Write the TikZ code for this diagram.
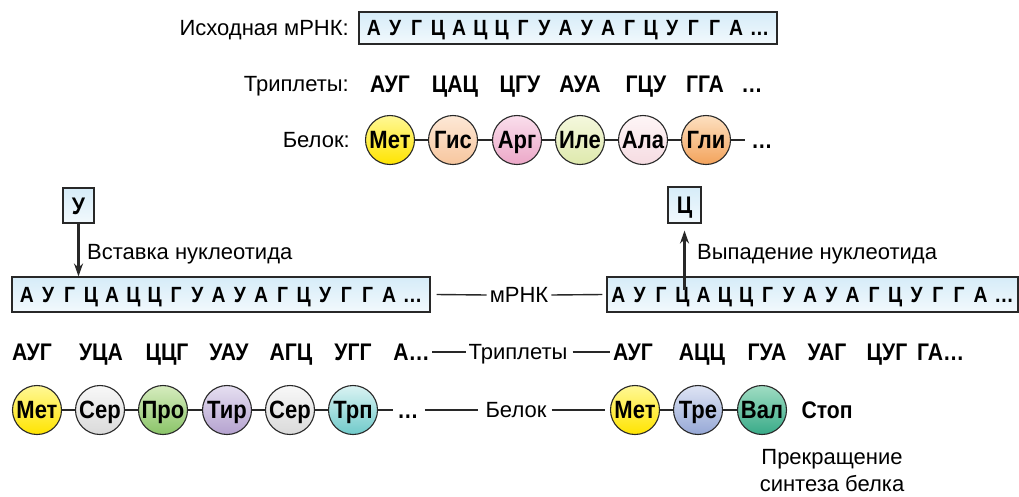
\documentclass[tikz,border=0pt]{standalone}
\usepackage{fontspec}
\setmainfont{Liberation Sans}
\newfontfamily\cb[FakeStretch=0.88]{Liberation Sans}
\usetikzlibrary{arrows.meta,calc}
\newcommand\nt[1]{\makebox[21.3pt]{#1}}
\newcommand\seqtext{\nt{А}\nt{У}\nt{Г}\nt{Ц}\nt{А}\nt{Ц}\nt{Ц}\nt{Г}\nt{У}\nt{А}\nt{У}\nt{А}\nt{Г}\nt{Ц}\nt{У}\nt{Г}\nt{Г}\nt{А}\makebox[26pt]{…}}
\definecolor{boxA}{RGB}{214,236,248}
\definecolor{boxB}{RGB}{242,249,253}
\definecolor{edge}{RGB}{40,40,40}
\definecolor{metA}{RGB}{255,248,150}\definecolor{metB}{RGB}{255,228,0}
\definecolor{gisA}{RGB}{253,232,214}\definecolor{gisB}{RGB}{247,198,158}
\definecolor{argA}{RGB}{250,222,236}\definecolor{argB}{RGB}{236,168,200}
\definecolor{ileA}{RGB}{245,248,222}\definecolor{ileB}{RGB}{222,233,172}
\definecolor{alaA}{RGB}{254,245,246}\definecolor{alaB}{RGB}{246,220,226}
\definecolor{gliA}{RGB}{253,224,192}\definecolor{gliB}{RGB}{243,163,92}
\definecolor{serA}{RGB}{248,248,248}\definecolor{serB}{RGB}{218,218,218}
\definecolor{proA}{RGB}{214,236,190}\definecolor{proB}{RGB}{138,196,104}
\definecolor{tirA}{RGB}{230,223,241}\definecolor{tirB}{RGB}{180,162,207}
\definecolor{trpA}{RGB}{218,243,243}\definecolor{trpB}{RGB}{112,202,202}
\definecolor{treA}{RGB}{222,228,244}\definecolor{treB}{RGB}{150,168,214}
\definecolor{valA}{RGB}{160,221,195}\definecolor{valB}{RGB}{56,170,136}
\begin{document}
\begin{tikzpicture}[x=1pt,y=-1pt,
  lbl/.style={font=\fontsize{22}{26}\selectfont, inner sep=0pt, text height=15.7pt, text depth=0pt},
  trip/.style={font=\cb\bfseries\fontsize{24}{28}\selectfont, inner sep=0pt, text height=17.2pt, text depth=0pt},
  seqbox/.style={draw=edge, line width=1.1pt, top color=boxA, bottom color=boxB, inner sep=0pt,
    font=\cb\bfseries\fontsize{22}{26}\selectfont, text height=15.7pt, text depth=0pt},
  aa/.style={circle, draw=edge, line width=1.1pt, minimum size=49pt, inner sep=0pt,
    font=\cb\bfseries\fontsize{25}{29}\selectfont, text height=17.9pt, text depth=0pt},
  link/.style={draw=edge, line width=1.4pt},
  arr/.style={draw=edge, line width=2.2pt, -{Stealth[length=13pt,width=9pt]}}
]
\useasboundingbox (0,0) rectangle (1019,496);

% ---------- original ----------
\node[lbl, anchor=east] (lm) at (349,28) {Исходная мРНК:};
\node[seqbox, minimum width=418pt, minimum height=32pt] (s0) at (568,28) {\seqtext};
\node[lbl, anchor=east] (lt) at (349,84) {Триплеты:};
\node[trip] (t1) at (390,84) {АУГ};
\node[trip] (t2) at (455,84) {ЦАЦ};
\node[trip] (t3) at (520,84) {ЦГУ};
\node[trip] (t4) at (580,84) {АУА};
\node[trip] (t5) at (646,84) {ГЦУ};
\node[trip] (t6) at (705,84) {ГГА};
\node[trip] (t7) at (752,84) {…};
\node[lbl, anchor=east] (lb) at (350,140) {Белок:};
\node[aa, top color=metA, bottom color=metB] (p1) at (390,140) {Мет};
\node[aa, top color=gisA, bottom color=gisB] (p2) at (453,140) {Гис};
\node[aa, top color=argA, bottom color=argB] (p3) at (517,140) {Арг};
\node[aa, top color=ileA, bottom color=ileB] (p4) at (580,140) {Иле};
\node[aa, top color=alaA, bottom color=alaB] (p5) at (643,140) {Ала};
\node[aa, top color=gliA, bottom color=gliB] (p6) at (706,140) {Гли};
\coordinate (pe) at (745,140);
\node[trip] (pd) at (762,140) {…};
\draw[link] (p1.east) -- (p2.west);
\draw[link] (p2.east) -- (p3.west);
\draw[link] (p3.east) -- (p4.west);
\draw[link] (p4.east) -- (p5.west);
\draw[link] (p5.east) -- (p6.west);
\draw[link] (p6.east) -- (pe);

% ---------- insertion ----------
\node[seqbox, minimum width=31pt, minimum height=35pt, font=\cb\bfseries\fontsize{24}{28}\selectfont, text height=17.2pt] (u) at (78.5,205.5) {У};
\node[seqbox, minimum width=418pt, minimum height=35pt] (sL) at (221,294.5) {\seqtext};
\coordinate (ut) at (u.south |- sL.north);
\draw[arr] (u.south) -- (ut);
\node[lbl, anchor=west] (ins) at (87,252) {Вставка нуклеотида};

% ---------- deletion ----------
\node[seqbox, minimum width=33pt, minimum height=36pt, font=\cb\bfseries\fontsize{24}{28}\selectfont, text height=17.2pt] (c) at (684.5,205) {Ц};
\node[seqbox, minimum width=411pt, minimum height=35pt] (sR) at (812.5,294.5) {\seqtext};
\coordinate (cs) at (684.5,290);
\draw[arr, shorten >=7pt] (cs) -- (c.south);
\node[lbl, anchor=west] (del) at (697,252) {Выпадение нуклеотида};

% ---------- middle labels ----------
\node[lbl] (mr) at (519,295) {мРНК};
\draw[link] ($(sL.east)+(6,0)$) -- ($(mr.west)+(-3,0)$);
\draw[link] ($(mr.east)+(3,0)$) -- ($(sR.west)+(-4,0)$);

% ---------- triplets bottom ----------
\node[trip] (a1) at (32,352) {АУГ};
\node[trip] (a2) at (101,352) {УЦА};
\node[trip] (a3) at (167,352) {ЦЦГ};
\node[trip] (a4) at (229,352) {УАУ};
\node[trip] (a5) at (291,352) {АГЦ};
\node[trip] (a6) at (353,352) {УГГ};
\node[trip, anchor=east] (a7) at (430,352) {А…};
\node[lbl] (tr) at (518,352) {Триплеты};
\node[trip] (b1) at (633,352) {АУГ};
\node[trip] (b2) at (702,352) {АЦЦ};
\node[trip] (b3) at (767,352) {ГУА};
\node[trip] (b4) at (827,352) {УАГ};
\node[trip] (b5) at (887,352) {ЦУГ};
\node[trip, anchor=west] (b6) at (917,352) {ГА…};
\draw[link] ($(a7.east)+(2,0)$) -- ($(tr.west)+(-2,0)$);
\draw[link] ($(tr.east)+(5,0)$) -- ($(b1.west)+(-3,0)$);

% ---------- proteins bottom ----------
\node[aa, top color=metA, bottom color=metB] (q1) at (37,410) {Мет};
\node[aa, top color=serA, bottom color=serB] (q2) at (100,410) {Сер};
\node[aa, top color=proA, bottom color=proB] (q3) at (163,410) {Про};
\node[aa, top color=tirA, bottom color=tirB] (q4) at (227,410) {Тир};
\node[aa, top color=serA, bottom color=serB] (q5) at (290,410) {Сер};
\node[aa, top color=trpA, bottom color=trpB] (q6) at (353,410) {Трп};
\coordinate (qe) at (393,410);
\node[trip] (qd) at (408,410) {…};
\draw[link] (q1.east) -- (q2.west);
\draw[link] (q2.east) -- (q3.west);
\draw[link] (q3.east) -- (q4.west);
\draw[link] (q4.east) -- (q5.west);
\draw[link] (q5.east) -- (q6.west);
\draw[link] (q6.east) -- (qe);

\node[lbl] (bl) at (516,410) {Белок};
\node[aa, top color=metA, bottom color=metB] (r1) at (635,410) {Мет};
\node[aa, top color=treA, bottom color=treB] (r2) at (698,410) {Тре};
\node[aa, top color=valA, bottom color=valB] (r3) at (762,410) {Вал};
\draw[link] (r1.east) -- (r2.west);
\draw[link] (r2.east) -- (r3.west);
\draw[link] ($(qd.east)+(6,0)$) -- ($(bl.west)+(-7,0)$);
\draw[link] ($(bl.east)+(5,0)$) -- ($(r1.west)+(-5,0)$);
\node[trip] (stop) at (827,410) {Стоп};
\node[lbl] (end1) at (832,457) {Прекращение};
\node[lbl] (end2) at (832,484) {синтеза белка};
\end{tikzpicture}
\end{document}
